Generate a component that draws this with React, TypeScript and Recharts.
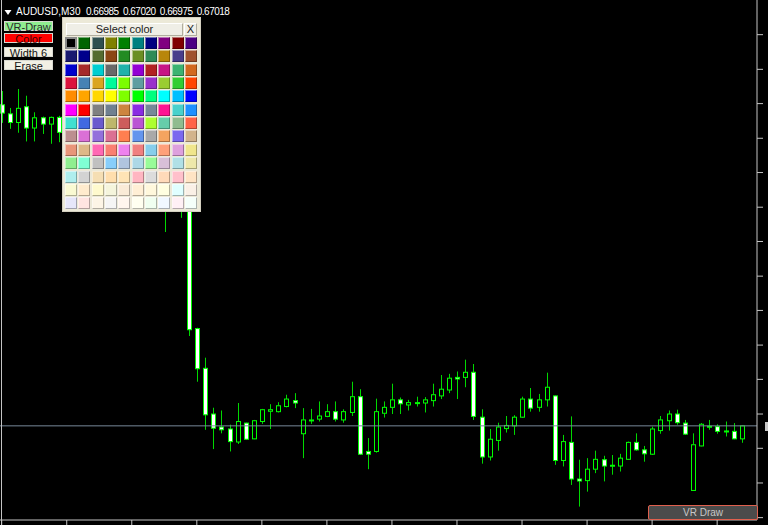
import React from "react";
import { ComposedChart, Bar, XAxis, YAxis, ReferenceLine } from "recharts";

// AUDUSD M30 candles (oldest -> newest)
const OPEN = [
  0.67833, 0.6781, 0.67788, 0.67828, 0.67774, 0.678, 0.67784, 0.67801, 0.67764, 0.67744,
  0.67759, 0.67719, 0.67729, 0.67693, 0.67706, 0.67668, 0.67678, 0.67647, 0.67663, 0.67622,
  0.67632, 0.67597, 0.67607, 0.67581, 0.67265, 0.67164, 0.67048, 0.67015, 0.6701, 0.66977,
  0.67025, 0.66985, 0.67029, 0.67055, 0.67054, 0.67067, 0.67082, 0.66998, 0.67032, 0.67035,
  0.67042, 0.67054, 0.67033, 0.67052, 0.67092, 0.66953, 0.66953, 0.6705, 0.67065, 0.67084,
  0.67071, 0.67076, 0.67076, 0.67082, 0.67094, 0.67109, 0.67141, 0.67141, 0.67154, 0.6704,
  0.66939, 0.66981, 0.67011, 0.67018, 0.6704, 0.67086, 0.67065, 0.67084, 0.67094, 0.6693,
  0.66976, 0.66883, 0.66879, 0.66908, 0.66932, 0.66916, 0.66916, 0.66933, 0.66976, 0.66957,
  0.66946, 0.67006, 0.67031, 0.67048, 0.67025, 0.66854, 0.66967, 0.67015, 0.67016, 0.67005,
  0.67004, 0.66985,
];
const HIGH = [
  0.67868, 0.67825, 0.67873, 0.67856, 0.67814, 0.67803, 0.67803, 0.67805, 0.67779, 0.67769,
  0.67767, 0.67744, 0.67736, 0.67719, 0.67713, 0.67693, 0.67688, 0.67673, 0.67668, 0.67647,
  0.67637, 0.67627, 0.67617, 0.67592, 0.67267, 0.67191, 0.67064, 0.67057, 0.67021, 0.67076,
  0.67026, 0.67033, 0.67061, 0.67073, 0.67078, 0.67097, 0.67101, 0.67063, 0.67061, 0.6708,
  0.67073, 0.6708, 0.6706, 0.6713, 0.67111, 0.66987, 0.67087, 0.6708, 0.67125, 0.6709,
  0.67084, 0.67092, 0.67091, 0.67125, 0.67147, 0.6715, 0.67156, 0.67186, 0.67175, 0.6706,
  0.6701, 0.67026, 0.67043, 0.67045, 0.67092, 0.67114, 0.67099, 0.67153, 0.67095, 0.66995,
  0.67042, 0.66932, 0.66936, 0.66955, 0.66942, 0.66944, 0.66947, 0.66978, 0.66999, 0.66967,
  0.67016, 0.67043, 0.67057, 0.67059, 0.67033, 0.66999, 0.67025, 0.67033, 0.67022, 0.67029,
  0.67025, 0.6702,
];
const LOW = [
  0.67787, 0.67772, 0.67762, 0.6774, 0.6774, 0.67759, 0.67734, 0.67738, 0.67729, 0.67724,
  0.67703, 0.67698, 0.67678, 0.67673, 0.67653, 0.67647, 0.6763, 0.67627, 0.67602, 0.67592,
  0.6751, 0.67576, 0.67546, 0.67246, 0.6713, 0.67008, 0.66959, 0.66999, 0.66953, 0.66972,
  0.66982, 0.66984, 0.67023, 0.6701, 0.67052, 0.67065, 0.67063, 0.66936, 0.67023, 0.67029,
  0.6704, 0.67029, 0.67026, 0.67043, 0.66944, 0.66908, 0.6695, 0.67039, 0.67048, 0.67048,
  0.67057, 0.67067, 0.67052, 0.67067, 0.67086, 0.67101, 0.67086, 0.67116, 0.67033, 0.66922,
  0.6693, 0.66955, 0.67001, 0.66995, 0.67038, 0.67054, 0.67054, 0.67067, 0.66919, 0.66915,
  0.66868, 0.66813, 0.66851, 0.66898, 0.66877, 0.66894, 0.66902, 0.66932, 0.66955, 0.66927,
  0.66944, 0.66998, 0.67006, 0.67021, 0.66995, 0.66853, 0.66966, 0.67008, 0.66998, 0.66991,
  0.66984, 0.66975,
];
const CLOSE = [
  0.67812, 0.67788, 0.67824, 0.67774, 0.678, 0.67784, 0.67801, 0.67763, 0.67744, 0.67759,
  0.67719, 0.67729, 0.67693, 0.67706, 0.67668, 0.67678, 0.67647, 0.67663, 0.67622, 0.67632,
  0.67597, 0.67607, 0.67581, 0.67262, 0.67163, 0.67046, 0.67012, 0.67008, 0.66978, 0.67029,
  0.66984, 0.67031, 0.67059, 0.67059, 0.67069, 0.67086, 0.67076, 0.67033, 0.67033, 0.67043,
  0.67054, 0.67035, 0.67054, 0.67092, 0.66946, 0.66946, 0.67054, 0.67065, 0.67084, 0.67074,
  0.67077, 0.67077, 0.67084, 0.67097, 0.67111, 0.67139, 0.67137, 0.67154, 0.67042, 0.66939,
  0.66984, 0.67015, 0.67019, 0.6704, 0.67086, 0.67063, 0.67084, 0.67116, 0.6693, 0.66978,
  0.66883, 0.66878, 0.66908, 0.66933, 0.66916, 0.66918, 0.66936, 0.66976, 0.66957, 0.66947,
  0.6701, 0.67033, 0.67048, 0.67026, 0.66997, 0.6697, 0.67022, 0.67017, 0.67004, 0.67004,
  0.66985, 0.67018,
];

const BID = 0.67018;
const PRICE_DOMAIN = [0.66779, 0.68099];
const PRICE_TICKS = [
  0.66785, 0.66873, 0.66961, 0.67048, 0.67136, 0.67223, 0.67311, 0.67398,
  0.67486, 0.67573, 0.67661, 0.67748, 0.67836, 0.67923, 0.68011,
];
const HEADER = ["AUDUSD,M30", "0.66985 0.67020 0.66975 0.67018"];

// color picker palette, row by row (10 per row)
const SWATCHES = [
  "black", "darkgreen", "darkslategray", "olive", "green", "teal", "navy", "purple", "maroon", "indigo",
  "midnightblue", "darkblue", "darkolivegreen", "saddlebrown", "forestgreen", "olivedrab", "seagreen", "darkgoldenrod", "darkslateblue", "sienna",
  "mediumblue", "brown", "darkturquoise", "dimgray", "lightseagreen", "darkviolet", "firebrick", "mediumvioletred", "mediumseagreen", "chocolate",
  "crimson", "steelblue", "goldenrod", "mediumspringgreen", "lawngreen", "cadetblue", "darkorchid", "yellowgreen", "limegreen", "orangered",
  "darkorange", "orange", "gold", "yellow", "chartreuse", "lime", "springgreen", "aqua", "deepskyblue", "blue",
  "magenta", "red", "gray", "slategray", "peru", "blueviolet", "lightslategray", "deeppink", "mediumturquoise", "dodgerblue",
  "turquoise", "royalblue", "slateblue", "darkkhaki", "indianred", "mediumorchid", "greenyellow", "mediumaquamarine", "darkseagreen", "tomato",
  "rosybrown", "orchid", "mediumpurple", "palevioletred", "coral", "cornflowerblue", "darkgray", "sandybrown", "mediumslateblue", "tan",
  "darksalmon", "burlywood", "hotpink", "salmon", "violet", "lightcoral", "skyblue", "lightsalmon", "plum", "khaki",
  "lightgreen", "aquamarine", "silver", "lightskyblue", "lightsteelblue", "lightblue", "palegreen", "thistle", "powderblue", "palegoldenrod",
  "paleturquoise", "lightgray", "wheat", "navajowhite", "moccasin", "lightpink", "gainsboro", "peachpuff", "pink", "bisque",
  "lightgoldenrodyellow", "blanchedalmond", "lemonchiffon", "beige", "antiquewhite", "papayawhip", "cornsilk", "lightyellow", "lightcyan", "linen",
  "lavender", "mistyrose", "oldlace", "whitesmoke", "seashell", "ivory", "honeydew", "aliceblue", "lavenderblush", "mintcream",
];

const candles = OPEN.map((o, i) => ({ t: i, o, h: HIGH[i], l: LOW[i], c: CLOSE[i] }));

const FRAME = "#c4c4c4";
const FONT = '"Liberation Sans", Arial, sans-serif';

const Candle = (props: any) => {
  const { x, y, width, height, payload } = props;
  if (!payload) return null;
  const { o, h, l, c } = payload;
  const top0 = height >= 0 ? y : y + height;
  const span = Math.abs(height);
  const k = span / (h - l || 1);
  const cx = Math.round(x + width / 2) + 0.5;
  const yo = top0 + (h - o) * k;
  const yc = top0 + (h - c) * k;
  const bt = Math.min(yo, yc);
  const bb = Math.max(yo, yc);
  const bull = c >= o;
  return (
    <g>
      <line x1={cx} x2={cx} y1={top0} y2={bt} stroke="#00d800" strokeWidth={1} />
      <line x1={cx} x2={cx} y1={bb} y2={top0 + span} stroke="#00d800" strokeWidth={1} />
      <rect
        x={cx - 2}
        y={bt}
        width={4}
        height={Math.max(bb - bt, 1)}
        fill={bull ? "#000000" : "#ffffff"}
        stroke="#00ff00"
        strokeWidth={1}
      />
    </g>
  );
};

const NoTick = () => <g />;

const btn = (top: number, bg: string, color: string): React.CSSProperties => ({
  position: "absolute",
  left: 4,
  top,
  width: 49,
  height: 10,
  background: bg,
  color,
  fontFamily: FONT,
  fontSize: 11,
  lineHeight: "10px",
  textAlign: "center",
  boxSizing: "border-box",
  border: "1px solid #d8d8d0",
});

export default function App() {
  return (
    <div
      style={{
        position: "absolute",
        left: 0,
        top: 0,
        width: 768,
        height: 525,
        background: "#000",
        overflow: "hidden",
      }}
    >
      <div style={{ position: "absolute", left: -10, top: 0 }}>
        <ComposedChart
          width={778}
          height={525}
          data={candles}
          margin={{ top: 0, right: 0, bottom: 0, left: 7.635 }}
        >
          <XAxis
            dataKey="t"
            interval={7}
            height={5}
            tickSize={5}
            tick={NoTick}
            padding={{ left: 0, right: 11.4 }}
            axisLine={{ stroke: FRAME }}
            tickLine={{ stroke: FRAME }}
          />
          <YAxis
            orientation="right"
            type="number"
            domain={PRICE_DOMAIN}
            allowDataOverflow
            ticks={PRICE_TICKS}
            interval={0}
            width={11}
            tickSize={6}
            tick={NoTick}
            axisLine={{ stroke: FRAME }}
            tickLine={{ stroke: FRAME }}
          />
          <ReferenceLine y={BID} stroke="#778899" strokeWidth={1} />
          <Bar
            dataKey={(d: any) => [d.l, d.h]}
            shape={Candle}
            isAnimationActive={false}
          />
        </ComposedChart>
      </div>

      {/* left frame and cropped bid label */}
      <div style={{ position: "absolute", left: 1, top: 0, width: 1, height: 525, background: FRAME }} />
      <div style={{ position: "absolute", left: 765, top: 422, width: 3, height: 9, background: "#c8c8c8" }} />

      {/* header */}
      <svg style={{ position: "absolute", left: 0, top: 0 }} width={14} height={20}>
        <polygon points="4.5,10 11.5,10 8,15" fill="#ffffff" />
      </svg>
      <div
        style={{
          position: "absolute",
          left: 16,
          top: 6,
          color: "#fff",
          fontFamily: FONT,
          fontSize: 10,
          lineHeight: "12px",
          whiteSpace: "pre",
        }}
      >
        {HEADER[0]}
      </div>
      <div
        style={{
          position: "absolute",
          left: 86,
          top: 6,
          color: "#fff",
          fontFamily: FONT,
          fontSize: 10,
          lineHeight: "12px",
          letterSpacing: -0.5,
          wordSpacing: 2,
          whiteSpace: "pre",
        }}
      >
        {HEADER[1]}
      </div>

      {/* VR-Draw panel buttons */}
      <div style={btn(21, "#90ee90", "#2a2a2a")}>VR-Draw</div>
      <div style={btn(33, "#ff0000", "#400000")}>Color</div>
      <div style={btn(47, "#f2f0e4", "#111")}>Width 6</div>
      <div style={btn(60, "#f2f0e4", "#111")}>Erase</div>

      {/* color picker */}
      <div
        style={{
          position: "absolute",
          left: 62,
          top: 17,
          width: 139,
          height: 195,
          background: "#ece9d8",
          boxSizing: "border-box",
          border: "1px solid #d4d0c0",
        }}
      >
        <div
          style={{
            position: "absolute",
            left: 3,
            top: 5,
            width: 117,
            height: 13,
            background: "#efeee6",
            boxSizing: "border-box",
            borderTop: "1px solid #fff",
            borderLeft: "1px solid #fff",
            borderBottom: "1px solid #b0ad9f",
            borderRight: "1px solid #b0ad9f",
            fontFamily: FONT,
            fontSize: 11,
            lineHeight: "11px",
            textAlign: "center",
            color: "#222",
          }}
        >
          Select color
        </div>
        <div
          style={{
            position: "absolute",
            left: 121,
            top: 5,
            width: 13,
            height: 13,
            background: "#efeee6",
            boxSizing: "border-box",
            borderTop: "1px solid #fff",
            borderLeft: "1px solid #fff",
            borderBottom: "1px solid #b0ad9f",
            borderRight: "1px solid #b0ad9f",
            fontFamily: FONT,
            fontSize: 11,
            lineHeight: "11px",
            textAlign: "center",
            color: "#222",
          }}
        >
          X
        </div>
        {SWATCHES.map((c, i) => (
          <div
            key={i}
            style={{
              position: "absolute",
              left: 2 + (i % 10) * 13.35,
              top: 19 + Math.floor(i / 10) * 13.35,
              width: 12,
              height: 12,
              background: c,
              boxSizing: "border-box",
              ...(i === 0
                ? { border: "2px solid #8a8a8a" }
                : {
                    borderTop: "1px solid rgba(255,255,255,0.45)",
                    borderLeft: "1px solid rgba(255,255,255,0.45)",
                    borderBottom: "1px solid rgba(0,0,0,0.3)",
                    borderRight: "1px solid rgba(0,0,0,0.3)",
                  }),
            }}
          />
        ))}
      </div>

      {/* VR Draw button bottom right */}
      <div
        style={{
          position: "absolute",
          left: 648,
          top: 505,
          width: 110,
          height: 15,
          background: "#4b4b4b",
          boxSizing: "border-box",
          border: "1px solid #e0604e",
          borderRadius: 2,
          color: "#c8c8c8",
          fontFamily: FONT,
          fontSize: 10,
          lineHeight: "13px",
          textAlign: "center",
        }}
      >
        VR Draw
      </div>
    </div>
  );
}
